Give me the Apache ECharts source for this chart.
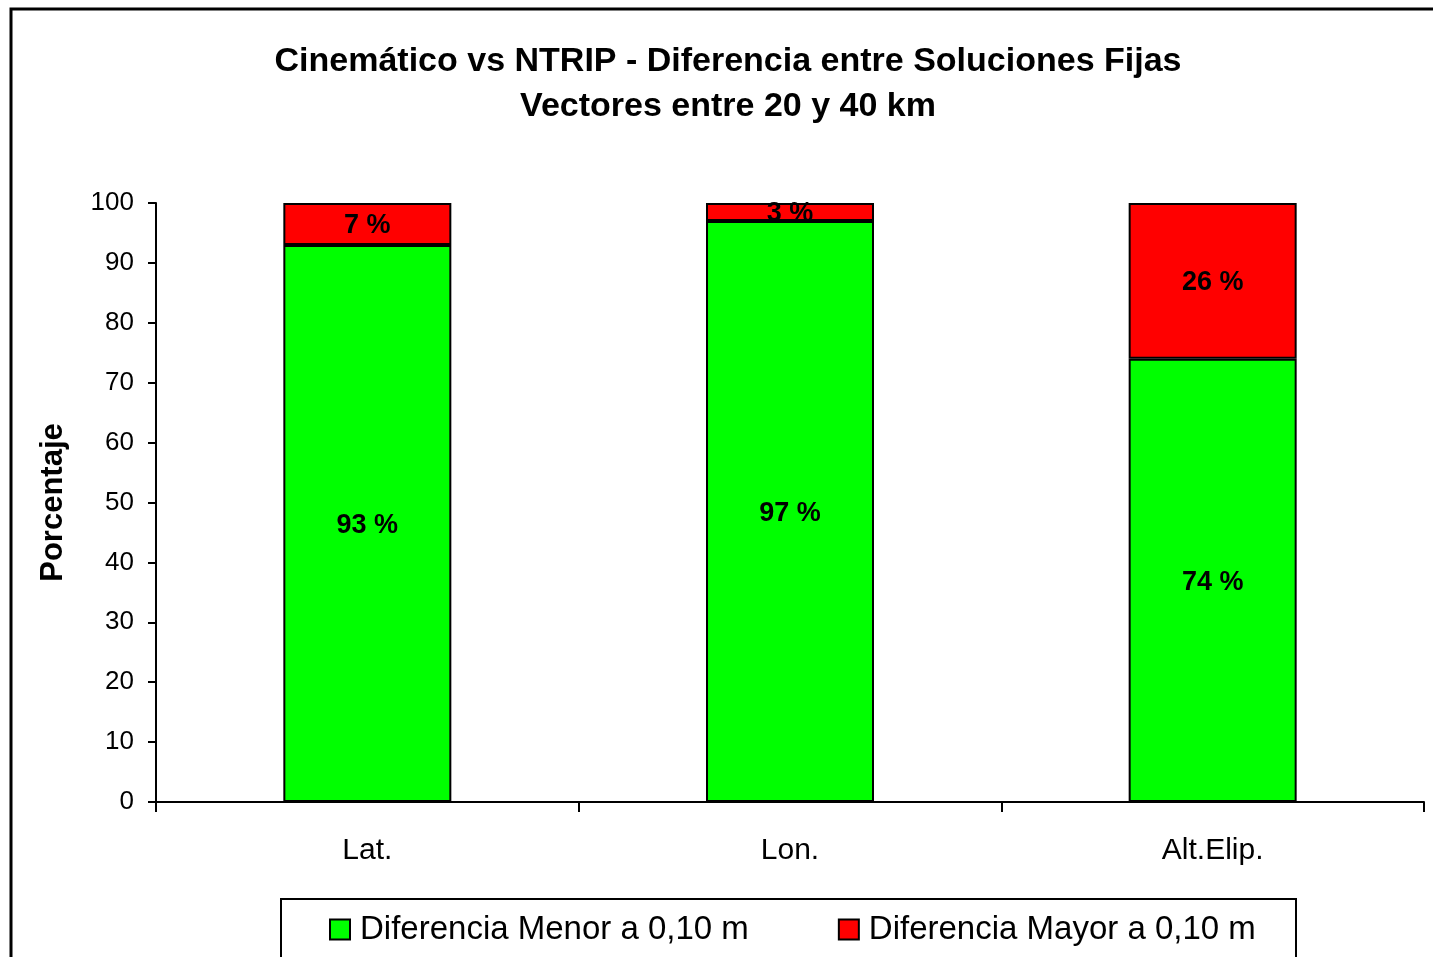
<!DOCTYPE html>
<html>
<head>
<meta charset="utf-8">
<script src="https://cdn.jsdelivr.net/npm/echarts@6/dist/echarts.min.js"></script>
<style>
  html, body { margin: 0; padding: 0; background: #fff; }
  #chart { width: 1433px; height: 957px; }
</style>
</head>
<body>
<div id="chart"></div>
<script>
// Componentes de la posición
const categories = ['Lat.', 'Lon.', 'Alt.Elip.'];
// Porcentaje de soluciones fijas por rango de diferencia
const menorValues = [93, 97, 74];
const mayorValues = [7, 3, 26];
const seriesNames = ['Diferencia Menor a 0,10 m', 'Diferencia Mayor a 0,10 m'];
const titleLines = ['Cinemático vs NTRIP - Diferencia entre Soluciones Fijas', 'Vectores entre 20 y 40 km'];
const yAxisName = 'Porcentaje';

const FONT = '"Liberation Sans", Arial, sans-serif';

const chart = echarts.init(document.getElementById('chart'), null, { renderer: 'canvas' });

const labelStyle = {
  show: true,
  position: 'inside',
  formatter: '{c} %',
  color: '#000',
  fontFamily: FONT,
  fontWeight: 'bold',
  fontSize: 27,
  offset: [0, 2]
};

chart.setOption({
  backgroundColor: '#fff',
  animation: false,
  title: {
    text: titleLines.join('\n'),
    left: 728,
    textAlign: 'center',
    top: 39,
    padding: 0,
    textStyle: {
      fontFamily: FONT,
      fontWeight: 'bold',
      fontSize: 34,
      lineHeight: 45,
      color: '#000'
    }
  },
  graphic: [
    {
      type: 'rect',
      z: -10,
      shape: { x: 11, y: 9, width: 1600, height: 1200 },
      style: { fill: 'none', stroke: '#000', lineWidth: 3 }
    },
    {
      type: 'rect',
      z: 0,
      shape: { x: 281, y: 899, width: 1015, height: 80 },
      style: { fill: '#fff', stroke: '#000', lineWidth: 2 }
    }
  ],
  legend: {
    data: seriesNames,
    left: 329,
    top: 913,
    padding: 0,
    itemWidth: 20,
    itemHeight: 20,
    itemGap: 89,
    icon: 'rect',
    textStyle: {
      fontFamily: FONT,
      fontSize: 33,
      color: '#000',
      padding: [0, 0, 0, 5]
    }
  },
  grid: {
    left: 156,
    right: 9,
    top: 203,
    bottom: 155,
    containLabel: false
  },
  xAxis: {
    type: 'category',
    data: categories,
    axisLine: { show: true, lineStyle: { color: '#000', width: 2 } },
    axisTick: { show: true, alignWithLabel: false, length: 10, lineStyle: { color: '#000', width: 2 } },
    axisLabel: { color: '#000', fontFamily: FONT, fontSize: 30, margin: 34 },
    splitLine: { show: false }
  },
  yAxis: {
    type: 'value',
    min: 0,
    max: 100,
    interval: 10,
    name: yAxisName,
    nameLocation: 'middle',
    nameGap: 87,
    nameTextStyle: { color: '#000', fontFamily: FONT, fontWeight: 'bold', fontSize: 31 },
    axisLine: { show: true, lineStyle: { color: '#000', width: 2 } },
    axisTick: { show: true, length: 8, lineStyle: { color: '#000', width: 2 } },
    axisLabel: { color: '#000', fontFamily: FONT, fontSize: 26, margin: 22, padding: [4, 0, 0, 0] },
    splitLine: { show: false }
  },
  series: [
    {
      name: seriesNames[0],
      type: 'bar',
      stack: 'total',
      barWidth: 168,
      data: menorValues,
      itemStyle: { color: '#00FF00', borderColor: '#000', borderWidth: 2 },
      label: labelStyle
    },
    {
      name: seriesNames[1],
      type: 'bar',
      stack: 'total',
      barWidth: 168,
      data: mayorValues,
      itemStyle: { color: '#FF0000', borderColor: '#000', borderWidth: 2 },
      label: labelStyle
    }
  ]
});
</script>
</body>
</html>
